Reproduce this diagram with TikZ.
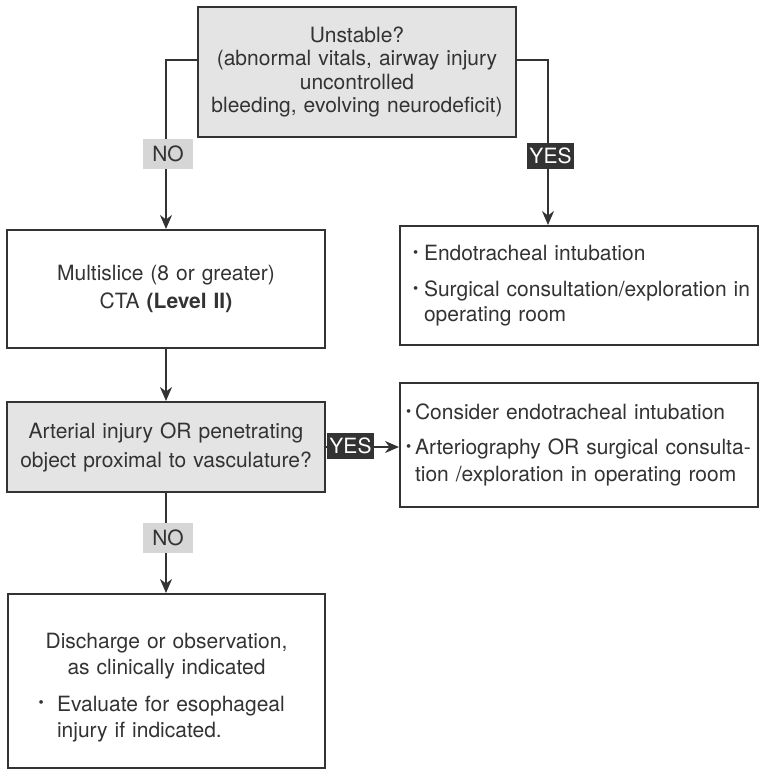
\documentclass[tikz,border=0pt]{standalone}
\usepackage{fontspec}
\setmainfont{TeX Gyre Heros}
\usepackage{xcolor}
\usetikzlibrary{calc}
\usetikzlibrary{positioning}
\usetikzlibrary{arrows.meta}
\tikzset{>={Stealth[length=14pt,width=12pt]}}
\definecolor{ink}{HTML}{333333}
\definecolor{boxgrey}{HTML}{E4E4E4}
\definecolor{labgrey}{HTML}{D6D6D6}
\newcommand{\blt}{\raisebox{0.3ex}{\scalebox{0.7}{\textbullet}}}

\begin{document}
\begin{tikzpicture}[x=1pt, y=-1pt,
    every node/.style = {text=ink, font=\fontsize{21}{25}\selectfont},
    plainbox/.style = {draw=ink, line width=2pt, fill=white, inner ysep=0pt},
    askbox/.style = {plainbox, fill=boxgrey},
    nolab/.style = {fill=labgrey, inner xsep=9.5pt, inner ysep=0pt, minimum height=30pt},
    yeslab/.style = {fill=ink, text=white, inner xsep=2.5pt, inner ysep=0pt, minimum height=26pt},
    flow/.style = {draw=ink, line width=2pt, ->}]
    \useasboundingbox (0,0) rectangle (763,769);

    \node[askbox, text width=300pt, inner xsep=9pt, minimum height=130pt, align=center,
          font=\fontsize{21}{23.5}\selectfont] (unstable) at (357,72)
        {Unstable?\\(abnormal vitals, airway injury\\uncontrolled\\bleeding, evolving neurodeficit)};
    \node[plainbox, text width=300pt, inner xsep=9pt, minimum height=118pt, align=center,
          font=\fontsize{21}{28}\selectfont] (multislice) at (166,289)
        {Multislice (8 or greater)\\CTA \textbf{(Level II)}};
    \node[plainbox, text width=352pt, inner xsep=3pt, minimum height=119pt, align=left] (intubate) at (579,285.5)
        {\hspace*{10pt}\makebox[11pt][l]{\blt}Endotracheal intubation\\[11pt]
         \hspace*{10pt}\makebox[11pt][l]{\blt}Surgical consultation/exploration in\\
         \hspace*{21pt}operating room};
    \node[askbox, text width=300pt, inner xsep=9pt, minimum height=90pt, align=center,
          font=\fontsize{21}{29}\selectfont] (arterial) at (166,447)
        {Arterial injury OR penetrating\\object proximal to vasculature?};
    \node[plainbox, text width=346pt, inner xsep=6pt, minimum height=124pt, align=left,
          font=\fontsize{21}{27}\selectfont] (consider) at (579,445)
        {\makebox[9pt][l]{\blt}Consider endotracheal intubation\\[8pt]
         \makebox[9pt][l]{\blt}Arteriography OR surgical consulta-\\
         \hspace*{9pt}tion /exploration in operating room};
    \node[plainbox, text width=300pt, inner xsep=8.5pt, minimum height=174pt,
          font=\fontsize{21}{26}\selectfont] (discharge) at (166.5,681)
        {\centering\rule{0pt}{28pt}Discharge or observation,\\as clinically indicated\par
         \vspace{11pt}\raggedright
         \hspace*{22pt}\makebox[18.5pt][l]{\blt}Evaluate for esophageal\\
         \hspace*{40.5pt}injury if indicated.\par};

    \draw[flow] ([yshift=12pt]unstable.west) -| (multislice.north);
    \draw[flow] ([yshift=12pt]unstable.east) -| ([xshift=-31pt]intubate.north);
    \draw[flow] (multislice) -- (arterial);
    \draw[flow] (arterial.east) -- (arterial.east -| consider.west);
    \draw[flow] (arterial.south) -- (arterial.south |- discharge.north);

    \node[nolab] (no1) at (168,154) {NO};
    \node[yeslab] (yes1) at (550.5,156) {YES};
    \node[yeslab] (yes2) at (350.5,446) {YES};
    \node[nolab] (no2) at (168,537.5) {NO};
\end{tikzpicture}
\end{document}
